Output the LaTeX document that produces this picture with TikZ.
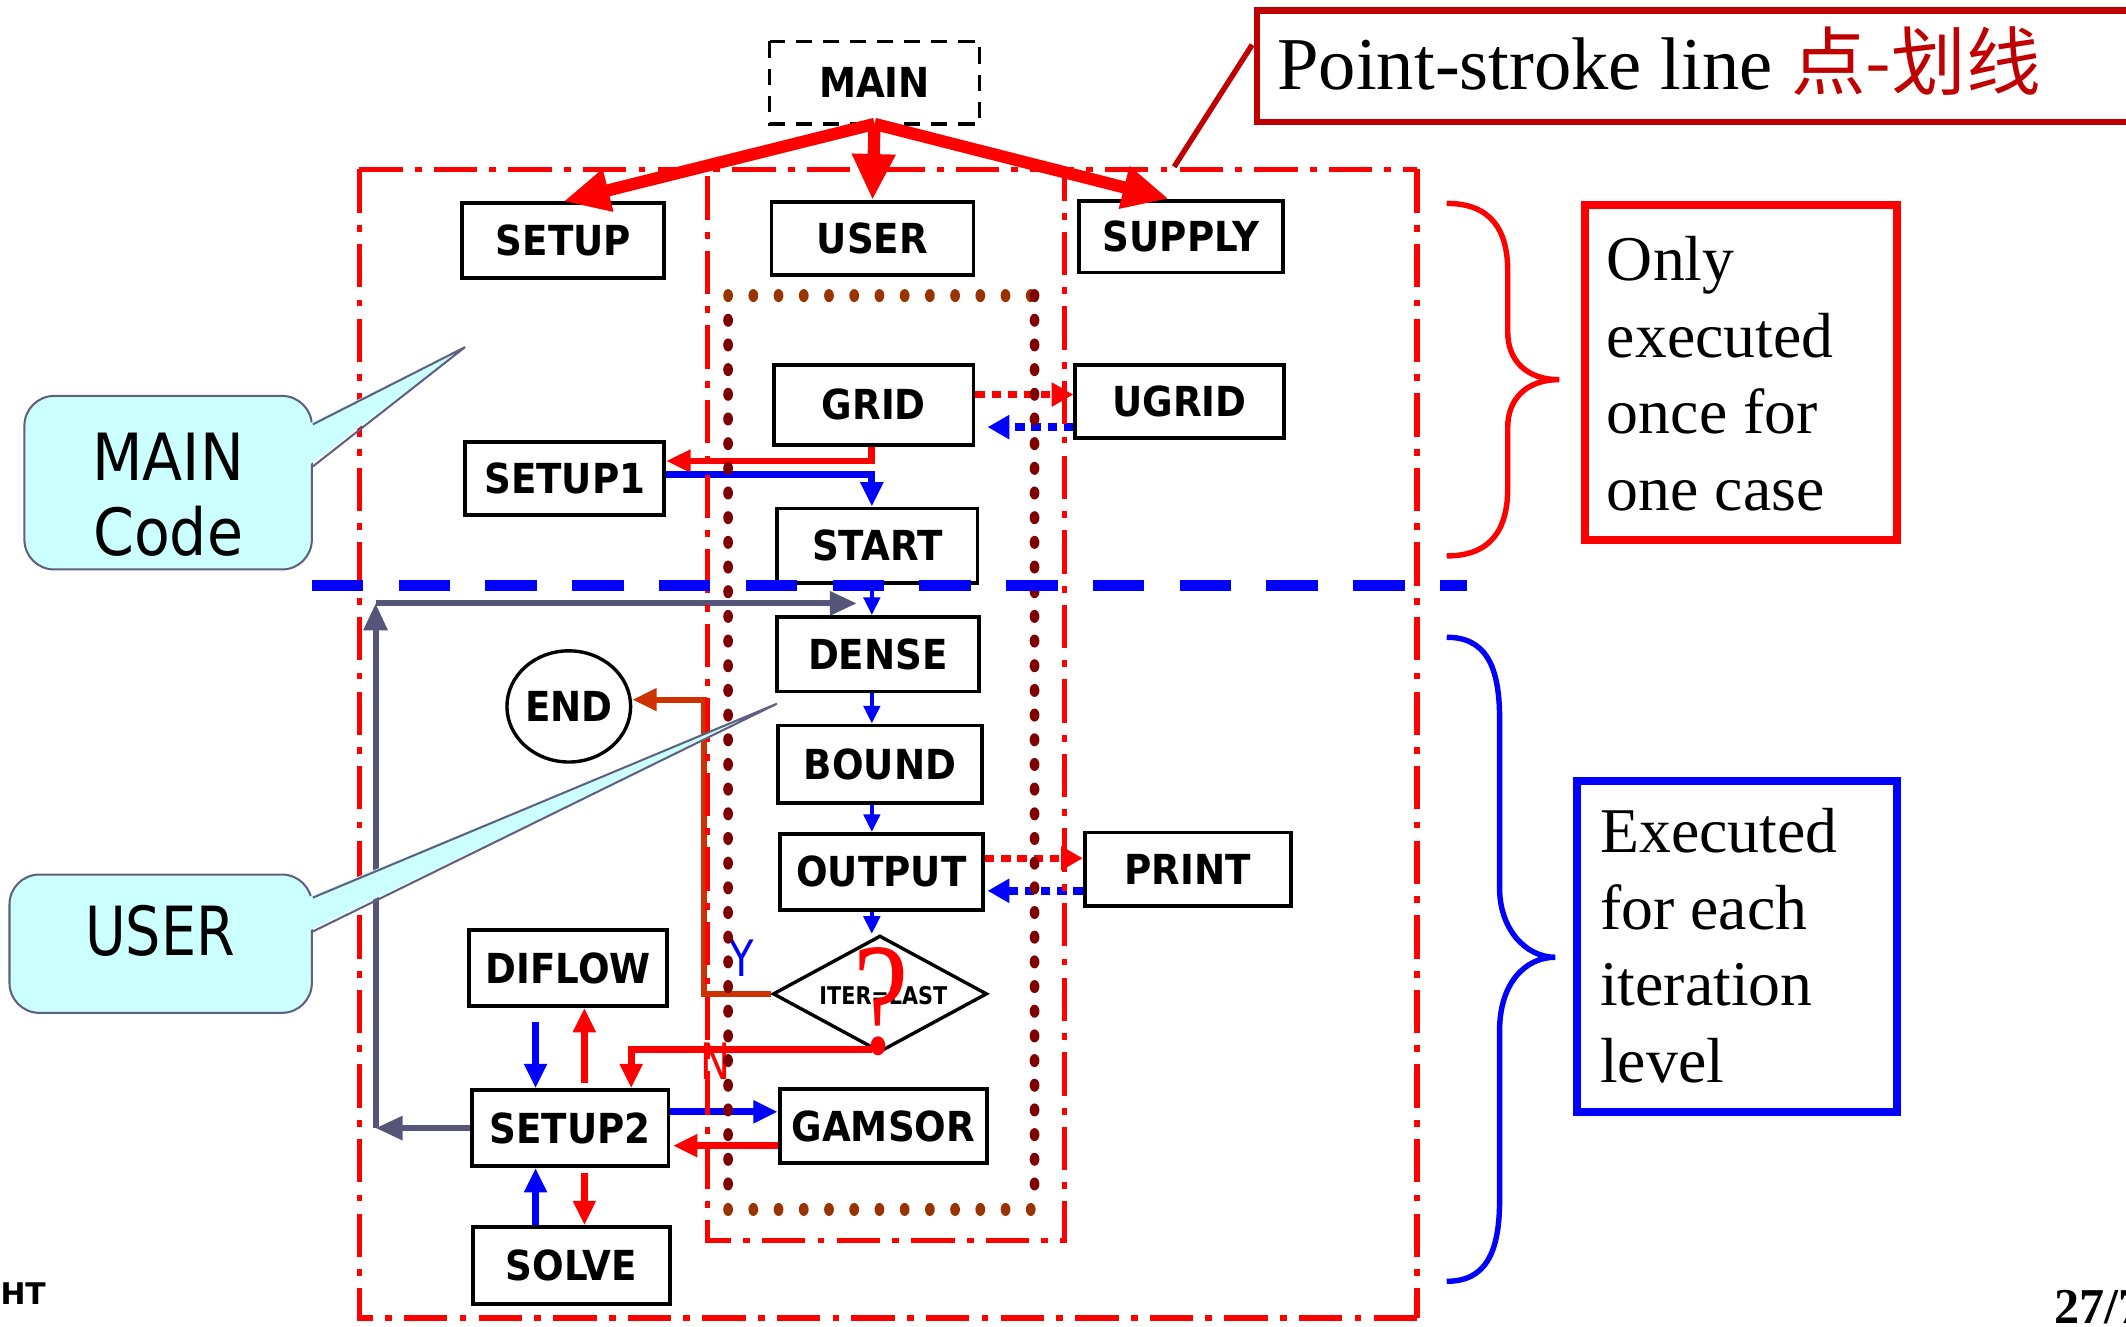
\documentclass[tikz,border=0pt]{standalone}
\usepackage{fontspec}
\setmainfont{Liberation Serif}
\newfontfamily\dvs{DejaVu Sans}
\newfontfamily\cjk{Noto Sans CJK SC}
\usepackage{graphicx}
\usetikzlibrary{arrows.meta,calc,shapes.geometric}
\definecolor{calloutfill}{HTML}{CCFFFF}
\definecolor{calloutline}{HTML}{5F5F80}
\definecolor{darkred}{HTML}{C00000}
\definecolor{dotbrown}{HTML}{993300}
\definecolor{dotmaroon}{HTML}{7F0000}
\definecolor{slate}{HTML}{55557A}
\definecolor{rust}{HTML}{CC3300}
\newcommand\boxtxt[1]{\scalebox{0.9}[1]{#1}}
\begin{document}
\begin{tikzpicture}[x=1pt,y=-1pt,
  prog/.style={draw=black,line width=2.8pt,fill=white,inner sep=0pt,
     font=\dvs\bfseries\fontsize{30.5}{36}\selectfont},
  dashdot/.style={draw=red,line width=4pt,dash pattern=on 32pt off 9pt on 5pt off 9pt},
  bigred/.style={draw=red,line width=9pt,-{Triangle[length=34pt,width=30pt]}},
  blu/.style={draw=blue,line width=3pt,-{Triangle[length=13pt,width=12pt]}},
  redc/.style={draw=red,line width=5pt,-{Triangle[length=18pt,width=16pt]}},
  bluc/.style={draw=blue,line width=5pt,-{Triangle[length=18pt,width=16pt]}},
  reddot/.style={draw=red,line width=5.5pt,dash pattern=on 7pt off 5pt,-{Triangle[length=16pt,width=17pt]}},
  bludot/.style={draw=blue,line width=5.5pt,dash pattern=on 7pt off 5pt,-{Triangle[length=16pt,width=17pt]}},
  slatec/.style={draw=slate,line width=4.5pt,-{Triangle[length=20pt,width=17pt]}},
  rustc/.style={draw=rust,line width=4.5pt,-{Triangle[length=18pt,width=16pt]}},
  callbox/.style={draw=calloutline,fill=calloutfill,line width=1.5pt,rounded corners=22pt},
  callptr/.style={draw=calloutline,line width=1.5pt},
  calltext/.style={font=\dvs\fontsize{48}{55}\selectfont,align=center,inner sep=0pt},
  notetext/.style={font=\fontsize{47}{56.5}\selectfont,align=left,inner sep=0pt,anchor=north west},
  brace/.style={line width=4pt}
]
\useasboundingbox (0,0) rectangle (1568,978);
\fill[white] (0,0) rectangle (1568,978);

% ---------- program boxes ----------
\node[prog,draw=none,minimum width=152pt,minimum height=58pt] (main) at (645,61) {\boxtxt{MAIN}};
\draw[line width=2.5pt,dash pattern=on 12pt off 8pt] (main.north west) rectangle (main.south east);
\node[prog,minimum width=149pt,minimum height=55pt] (setup) at (415.5,177.5) {\boxtxt{SETUP}};
\node[prog,minimum width=149pt,minimum height=54pt] (user) at (643.5,176) {\boxtxt{USER}};
\node[prog,minimum width=150pt,minimum height=53pt] (supply) at (871,174.5) {\boxtxt{SUPPLY}};
\node[prog,minimum width=147pt,minimum height=59pt] (grid) at (644.5,298.5) {\boxtxt{GRID}};
\node[prog,minimum width=154pt,minimum height=54pt] (ugrid) at (870,296) {\boxtxt{UGRID}};
\node[prog,minimum width=147pt,minimum height=54pt] (setup1) at (416.5,353) {\boxtxt{SETUP1}};
\node[prog,minimum width=148pt,minimum height=55pt] (start) at (647,402.5) {\boxtxt{START}};
\node[prog,minimum width=149pt,minimum height=55pt] (dense) at (647.5,482.5) {\boxtxt{DENSE}};
\node[prog,minimum width=150pt,minimum height=57pt] (bound) at (649,563.5) {\boxtxt{BOUND}};
\node[prog,minimum width=150pt,minimum height=56pt] (output) at (650,643) {\boxtxt{OUTPUT}};
\node[prog,minimum width=152pt,minimum height=54pt] (print) at (876,641) {\boxtxt{PRINT}};
\node[prog,minimum width=146pt,minimum height=56pt] (diflow) at (419,714) {\boxtxt{DIFLOW}};
\node[prog,minimum width=145pt,minimum height=56pt] (setup2) at (420.5,832) {\boxtxt{SETUP2}};
\node[prog,minimum width=153pt,minimum height=55pt] (gamsor) at (651.5,830.5) {\boxtxt{GAMSOR}};
\node[prog,minimum width=145pt,minimum height=57pt] (solve) at (421.5,933.5) {\boxtxt{SOLVE}};
\node[prog,ellipse,line width=2.5pt,minimum width=83pt,minimum height=82pt] (endn) at (419.5,521) {\boxtxt{END}};
\node[draw=black,fill=white,diamond,line width=2.5pt,inner sep=0pt,aspect=1.84,
      minimum width=158pt,minimum height=86pt] (iter) at (649,733) {};
\node[font=\dvs\bfseries\fontsize{18}{20}\selectfont,inner sep=0pt] (iterlbl) at (651.5,734) {\scalebox{0.85}[1]{ITER=LAST}};
\node[text=red,font=\fontsize{118}{118}\selectfont,inner sep=0pt] (qmark) at (650,738.5) {\scalebox{0.78}[1]{?}};

% ---------- connectors ----------
\draw[bigred] (main.south) -- (setup.north);
\draw[bigred] (main.south) -- (user.north);
\draw[bigred] (main.south) -- ($(supply.north)+(-9,0)$);

\draw[reddot] ($(grid.east)+(0,-7.5)$) -- ($(ugrid.west)+(0,-5)$);
\draw[bludot] ($(ugrid.west)+(0,19)$) -- ($(grid.east)+(9,16.5)$);
\draw[redc] ($(grid.south)+(-1.5,0)$) |- ($(setup1.east)+(0,-13)$);
\draw[bluc] ($(setup1.east)+(0,-3)$) -| ($(start.north)+(-4,0)$);
\draw[blu] ($(start.south)+(-4,0)$) -- ($(dense.north)+(-4.5,0)$);
\draw[blu] ($(dense.south)+(-4.5,0)$) -- ($(bound.north)+(-6,0)$);
\draw[blu] ($(bound.south)+(-6,0)$) -- ($(output.north)+(-7,0)$);
\draw[blu] ($(output.south)+(-7,0)$) -- ($(iter.north)+(-6,0)$);
\draw[reddot] ($(output.east)+(0,-10)$) -- ($(print.west)+(0,-8)$);
\draw[bludot] ($(print.west)+(0,16)$) -- ($(output.east)+(2,14)$);
\draw[rustc] (iter.west) -| ($(endn.east)+(53,-5)$) -- ($(endn.east)+(0,-5)$);
\draw[redc] ($(iter.south)+(-6,-3)$) -| ($(setup2.north)+(45,0)$);
\draw[bluc] ($(diflow.south)+(-24,10)$) -- ($(setup2.north)+(-25.5,0)$);
\draw[redc] ($(setup2.north)+(10.5,-4)$) -- ($(diflow.south)+(12,0)$);
\draw[bluc] ($(setup2.east)+(0,-12)$) -- ($(gamsor.west)+(0,-10.5)$);
\draw[redc] ($(gamsor.west)+(0,14.5)$) -- ($(setup2.east)+(2,13)$);
\draw[bluc] ($(solve.north)+(-26.5,0)$) -- ($(setup2.south)+(-25.5,0)$);
\draw[redc] ($(setup2.south)+(10.5,4)$) -- ($(solve.north)+(9.5,0)$);

\coordinate (gA) at (277,832);
\coordinate (gB) at (277,445);
\coordinate (gC) at (632,445);
\draw[slatec] (setup2.west) -- (gA);
\draw[slatec] (gA) -- (gB);
\draw[slatec] (gB) -- (gC);

\node[text=blue,font=\dvs\fontsize{37}{40}\selectfont,inner sep=0pt] (ylbl) at (547,707) {\scalebox{0.8}[1]{Y}};
\node[text=red,font=\dvs\fontsize{37}{40}\selectfont,inner sep=0pt] (nlbl) at (528,783) {\scalebox{0.8}[1]{N}};

% ---------- point-stroke frames ----------
\coordinate (o1) at (265,125);
\coordinate (o2) at (1045,125);
\coordinate (o3) at (1045,972);
\coordinate (o4) at (265,972);
\draw[dashdot] (o1) -- (o2);
\draw[dashdot] (o1) -- (o4) -- (o3);
\draw[dashdot] (o2) -- (o3);
\coordinate (i1) at (522,130);
\coordinate (i2) at (522,915);
\coordinate (i3) at (785,915);
\coordinate (i4) at (785,125);
\draw[dashdot] (i1) -- (i2) -- (i3) -- (i4);

% ---------- dotted USER frame ----------
\foreach \i in {0,...,12}{
  \fill[dotbrown] ({537+18.6*\i},218) ellipse (3.6 and 4.8);
  \fill[dotbrown] ({537+18.6*\i},892) ellipse (3.6 and 4.8);
}
\fill[dotmaroon] (763,218) ellipse (3.6 and 4.8);
\foreach \j in {1,...,36}{
  \fill[dotmaroon] (537,{218+18.2*\j}) ellipse (3.6 and 4.8);
  \fill[dotmaroon] (763,{218+18.2*\j}) ellipse (3.6 and 4.8);
}

% ---------- divider ----------
\coordinate (divL) at (230,432);
\coordinate (divR) at (1082,432);
\draw[blue,line width=8pt,dash pattern=on 38pt off 26pt] (divL) -- (divR);

% ---------- callouts ----------
\node[callbox,minimum width=212pt,minimum height=128pt] (mcbox) at (124,356) {};
\coordinate (mctip) at (343,256);
\fill[calloutfill] ($(mcbox.east)+(-4,-43)$) -- (mctip) -- ($(mcbox.east)+(-4,-12)$) -- cycle;
\draw[callptr] ($(mcbox.east)+(0,-43)$) -- (mctip) -- ($(mcbox.east)+(0,-12)$);
\node[calltext] (mctext) at (124,365) {\scalebox{0.9}[1]{MAIN}\\\scalebox{0.9}[1]{Code}};

\node[callbox,minimum width=223pt,minimum height=102pt] (ubox) at (118.5,696) {};
\coordinate (utip) at (573,519);
\fill[calloutfill] ($(ubox.east)+(-4,-34)$) -- (utip) -- ($(ubox.east)+(-4,-9)$) -- cycle;
\draw[callptr] ($(ubox.east)+(0,-34)$) -- (utip) -- ($(ubox.east)+(0,-9)$);
\node[calltext,font=\dvs\fontsize{50}{55}\selectfont] (utext) at (118,686.5) {\scalebox{0.82}[1]{USER}};

% ---------- legend box ----------
\node[draw=darkred,line width=5pt,minimum width=673pt,minimum height=82pt,inner sep=0pt] (pbox) at (1263.5,49) {};
\node[anchor=base west,inner sep=0pt,font=\fontsize{55}{60}\selectfont] (ptitle) at (942,66)
   {Point-stroke line \textcolor{darkred}{\cjk 点-划线}};
\coordinate (ptip) at (866,123);
\draw[darkred,line width=4pt] ($(pbox.west)+(-1,-16)$) -- (ptip);

% ---------- braces and notes ----------
\draw[red,brace] (1067,150) .. controls (1100,150) and (1112,170) .. (1112,200) -- (1112,245)
  .. controls (1112,265) and (1125,280) .. (1150,280)
  .. controls (1125,280) and (1112,295) .. (1112,315) -- (1112,360)
  .. controls (1112,390) and (1100,410) .. (1067,410);
\node[draw=red,line width=6pt,minimum width=230pt,minimum height=247pt,inner sep=0pt] (onlybox) at (1284,274.5) {};
\node[notetext] (onlytxt) at (1185,174) {Only\\executed\\once for\\one case};

\draw[blue,brace] (1067,470) .. controls (1095,470) and (1106,490) .. (1106,530) -- (1106,655)
  .. controls (1106,685) and (1125,706) .. (1147,706)
  .. controls (1125,706) and (1106,725) .. (1106,760) -- (1106,885)
  .. controls (1106,925) and (1095,945) .. (1067,945);
\node[draw=blue,line width=6pt,minimum width=236pt,minimum height=244pt,inner sep=0pt] (iterbox) at (1281,698) {};
\node[notetext] (itertxt) at (1180,596) {Executed\\for each\\iteration\\level};

% ---------- page remnants ----------
\node[anchor=base east,inner sep=0pt,font=\dvs\bfseries\fontsize{22}{24}\selectfont] (ht) at (34,962) {HT};
\node[anchor=base west,inner sep=0pt,font=\bfseries\fontsize{37}{40}\selectfont] (pgno) at (1515,976) {27/7};
\end{tikzpicture}
\end{document}
